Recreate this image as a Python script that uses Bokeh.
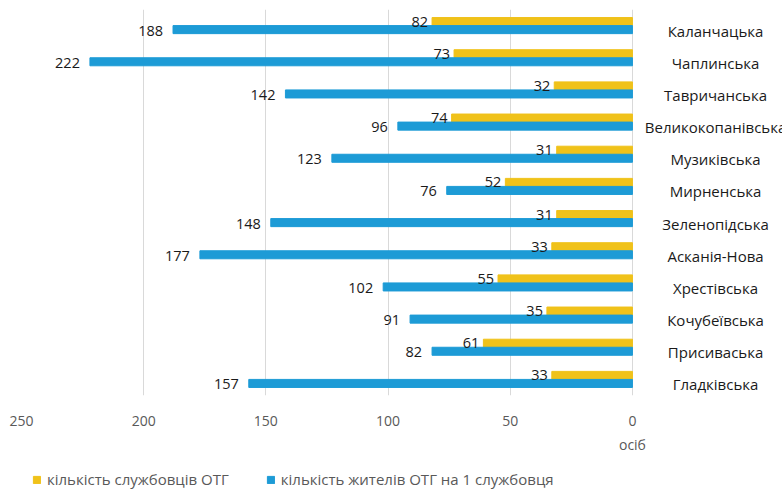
from bokeh.plotting import figure
from bokeh.layouts import column
from bokeh.models import Range1d, FixedTicker, Legend, LegendItem, LinearAxis, ColumnDataSource
from bokeh.core.properties import value
from bokeh.embed import file_html
from bokeh.resources import INLINE

communities = ["Каланчацька", "Чаплинська", "Тавричанська", "Великокопанівська",
               "Музиківська", "Мирненська", "Зеленопідська", "Асканія-Нова",
               "Хрестівська", "Кочубеївська", "Присиваська", "Гладківська"]
staff = [82, 73, 32, 74, 31, 52, 31, 33, 55, 35, 61, 33]
residents = [188, 222, 142, 96, 123, 76, 148, 177, 102, 91, 82, 157]
x_ticks = [0, 50, 100, 150, 200, 250]
series_names = ["кількість службовців ОТГ", "кількість жителів ОТГ на 1 службовця"]
unit_label = "осіб"

YELLOW = "#F0C21A"
BLUE = "#1D9BD6"
FONT = "Open Sans"

n = len(communities)
centers = [i + 0.5 for i in range(n)]
src = ColumnDataSource(dict(
    name=communities,
    yc=centers,
    ys=[c - 0.125 for c in centers],
    yr=[c + 0.125 for c in centers],
    staff=staff,
    res=residents,
    staff_lbl=[str(v) for v in staff],
    res_lbl=[str(v) for v in residents],
    lblx=[-34] * n,
))

p = figure(width=782, height=456, output_backend="svg", toolbar_location=None,
           x_range=Range1d(250, -61.4), y_range=Range1d(n, 0),
           min_border_left=21, min_border_right=0, min_border_top=9, min_border_bottom=61)
p.outline_line_color = None
p.background_fill_color = "white"
p.border_fill_color = "white"

r_s = p.hbar(y="ys", left=0, right="staff", height=0.25, color=YELLOW, source=src)
r_r = p.hbar(y="yr", left=0, right="res", height=0.25, color=BLUE, source=src)

p.text(x="staff", y="ys", text="staff_lbl", source=src, text_align="right",
       text_baseline="middle", x_offset=-4, y_offset=0, text_font=value(FONT),
       text_font_size="14.5px", text_color="#1a1a1a")
p.text(x="res", y="yr", text="res_lbl", source=src, text_align="right",
       text_baseline="middle", x_offset=-10, y_offset=1, text_font=value(FONT),
       text_font_size="14.5px", text_color="#1a1a1a")
p.text(x="lblx", y="yc", text="name", source=src, text_align="center",
       text_baseline="middle", y_offset=5, text_font=value(FONT),
       text_font_size="15px", text_color="#1a1a1a")

p.xaxis.ticker = FixedTicker(ticks=x_ticks)
p.xaxis.axis_line_color = None
p.xaxis.major_tick_line_color = None
p.xaxis.minor_tick_line_color = None
p.xaxis.major_label_text_font = FONT
p.xaxis.major_label_text_font_size = "14px"
p.xaxis.major_label_text_color = "#595959"
p.xaxis.major_label_standoff = 14
p.yaxis.visible = False
p.ygrid.visible = False
p.xgrid.grid_line_color = "#d9d9d9"
p.xgrid.ticker = FixedTicker(ticks=x_ticks)

unit_axis = LinearAxis(ticker=FixedTicker(ticks=[0]), major_label_overrides={0: unit_label},
                       axis_line_color=None, major_tick_line_color=None,
                       minor_tick_line_color=None, major_label_standoff=0,
                       major_label_text_font=FONT, major_label_text_font_size="14px",
                       major_label_text_color="#595959")
p.add_layout(unit_axis, "below")

# legend strip below the chart (same data, kept entirely outside its visible ranges)
lf = figure(width=782, height=34, output_backend="svg", toolbar_location=None,
            x_range=Range1d(-2, -1), y_range=Range1d(100, 101),
            min_border_left=0, min_border_right=0, min_border_top=0, min_border_bottom=0)
lf.axis.visible = False
lf.grid.visible = False
lf.outline_line_color = None
lf.border_fill_color = "white"
lf.background_fill_color = "white"
l_s = lf.hbar(y="ys", left=0, right="staff", height=0.25, color=YELLOW, source=src)
l_r = lf.hbar(y="yr", left=0, right="res", height=0.25, color=BLUE, source=src)
legend = Legend(items=[LegendItem(label=series_names[0], renderers=[l_s]),
                       LegendItem(label=series_names[1], renderers=[l_r])],
                orientation="horizontal", location=(11, 1),
                label_text_font=FONT, label_text_font_size="15px",
                label_text_color="#595959", glyph_width=9, glyph_height=9,
                label_standoff=6, spacing=37, padding=0, margin=0,
                border_line_color=None, background_fill_alpha=0)
lf.add_layout(legend)

layout = column(p, lf, spacing=0)
open("out.html", "w").write(file_html(layout, INLINE))
